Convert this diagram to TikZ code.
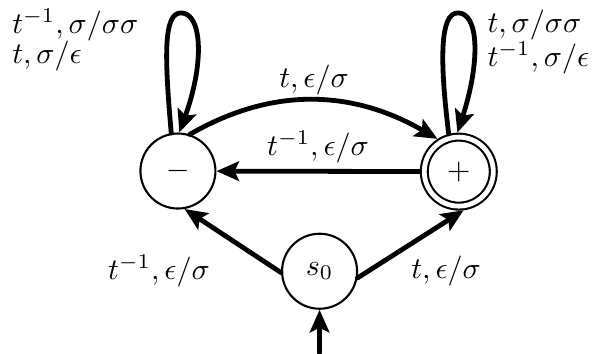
\documentclass[tikz,border=0pt]{standalone}
\usetikzlibrary{arrows.meta}

\begin{document}
\begin{tikzpicture}[x=1pt, y=1pt, line cap=round, line join=round,
    statenode/.style={circle, draw, line width=0.7pt, minimum size=25pt, inner sep=0pt},
    acceptnode/.style={statenode, double, double distance=1.6pt, minimum size=23pt, outer sep=1.5pt},
    trans/.style={line width=1.6pt, -{Stealth[length=7.5pt, width=6.5pt, inset=1.5pt]}},
    lbl/.style={inner sep=0pt}]
  \useasboundingbox (0,0) rectangle (197.3,117.7);
  % States.
  \node[statenode] (minus) at (59.3,60.7) {$-$};
  \node[acceptnode] (plus) at (152.9,60.5) {$+$};
  \node[statenode] (s0) at (106.5,27.3) {$s_0$};
  \coordinate (init) at (106.5,0);
  \coordinate (mtop) at (60.3,113.4);
  \coordinate (ptop) at (152.6,113.4);
  % Self loops.
  \draw[trans] (minus.100) .. controls +(95:25) and +(180:6) .. (mtop)
    .. controls +(0:7) and +(70:25) .. (minus.88);
  \draw[trans] (plus.105) .. controls +(97:25) and +(180:6) .. (ptop)
    .. controls +(0:7) and +(72:25) .. (plus.92);
  % Transitions.
  \draw[trans] (minus.72) to[out=30, in=150] (plus.123);
  \draw[trans] (plus) -- (minus);
  \draw[trans] (s0.182) -- (minus.-80);
  \draw[trans] (s0.-10) -- (plus.-83);
  \draw[trans] (init) -- (s0);
  % Labels.
  \node[lbl] (lcurve) at (104.7,91) {$t,\epsilon/\sigma$};
  \node[lbl] (lstraight) at (106,68.7) {$t^{-1},\epsilon/\sigma$};
  \node[lbl] (lleft) at (53,27.3) {$t^{-1},\epsilon/\sigma$};
  \node[lbl] (lright) at (148.7,27.3) {$t,\epsilon/\sigma$};
  \node[lbl, anchor=base west, text depth=0pt] (lmloopa) at (3.9,106.7) {$t^{-1},\sigma/\sigma\sigma$};
  \node[lbl, anchor=base west] (lmloopb) at (3.9,96.7) {$t,\sigma/\epsilon$};
  \node[lbl, anchor=base west, text depth=0pt] (lploopa) at (162.3,106.8) {$t,\sigma/\sigma\sigma$};
  \node[lbl, anchor=base west] (lploopb) at (162.3,95.6) {$t^{-1},\sigma/\epsilon$};
\end{tikzpicture}
\end{document}
